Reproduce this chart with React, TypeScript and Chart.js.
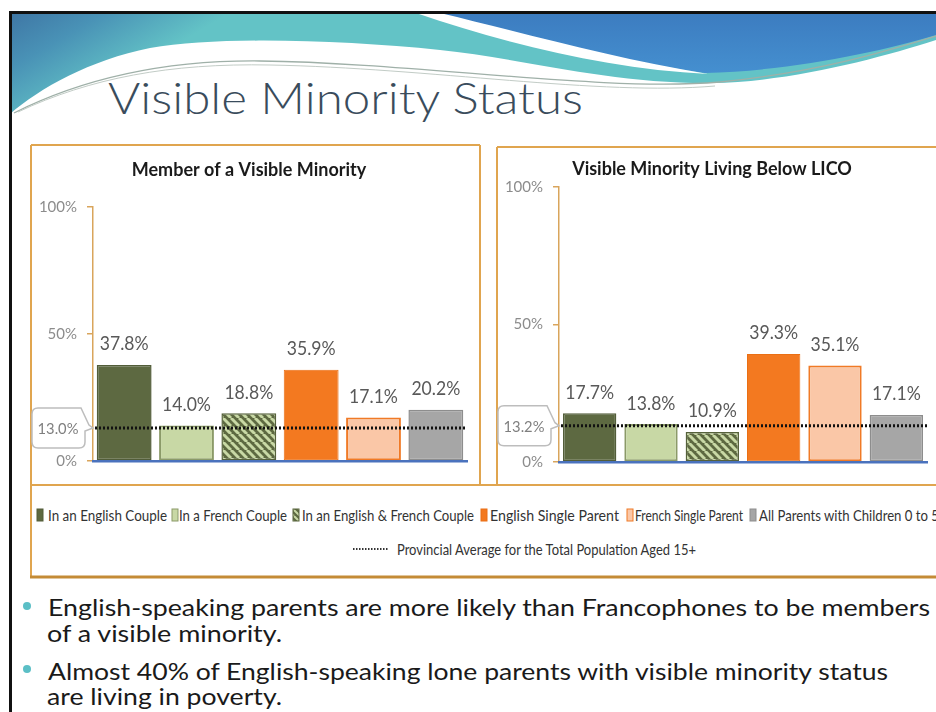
import React, { useEffect, useRef } from "react";
import { Chart, registerables } from "chart.js";

Chart.register(...registerables);

// ---------- data ----------
const seriesNames = [
  "In an English Couple",
  "In a French Couple",
  "In an English & French Couple",
  "English Single Parent",
  "French Single Parent",
  "All Parents with Children 0 to 5",
];
const chartTitles = ["Member of a Visible Minority", "Visible Minority Living Below LICO"];
const memberOfVisibleMinority = [37.8, 14.0, 18.8, 35.9, 17.1, 20.2];
const livingBelowLico = [17.7, 13.8, 10.9, 39.3, 35.1, 17.1];
const provincialAverages = [13.0, 13.2];
const yTickValues = [0, 50, 100];
const averageLegendLabel = "Provincial Average for the Total Population Aged 15+";
const slideTitle = "Visible Minority Status";
const bulletLines = [
  "English-speaking parents are more likely than Francophones to be members",
  "of a visible minority.",
  "Almost 40% of English-speaking lone parents with visible minority status",
  "are living in poverty.",
];

// ---------- styles ----------
const FILLS = ["#5d6941", "#c8d8a5", "HATCH", "#f37920", "#fac7a7", "#a6a6a6"];
const BORDERS = ["#525d39", "#8b9a68", "#56623b", "#ea6f14", "#f07a26", "#8d8d8d"];
const BORDER_W = [1.5, 2, 1.5, 1, 2, 1.5];
const ORANGE = "#e0a54f";

function makeHatch(): CanvasPattern | string {
  const c = document.createElement("canvas");
  c.width = 8;
  c.height = 8;
  const g = c.getContext("2d");
  if (!g) return "#5d6941";
  g.fillStyle = "#5d6941";
  g.fillRect(0, 0, 8, 8);
  g.strokeStyle = "#c8d8a5";
  g.lineWidth = 3;
  for (const o of [-8, 0, 8]) {
    g.beginPath();
    g.moveTo(o, 0);
    g.lineTo(o + 8, 8);
    g.stroke();
  }
  return g.createPattern(c, "repeat") || "#5d6941";
}

function drawCondensed(ctx: CanvasRenderingContext2D, text: string, x: number, y: number, font: string, color: string, k: number) {
  ctx.save();
  ctx.translate(x, y);
  ctx.scale(k, 1);
  ctx.font = font;
  ctx.fillStyle = color;
  ctx.textAlign = "center";
  ctx.textBaseline = "middle";
  ctx.fillText(text, 0, 0);
  ctx.restore();
}

const overlayPlugin = {
  id: "overlay",
  afterDatasetsDraw(chart: any, _args: any, opts: any) {
    const { ctx, chartArea } = chart;
    const y = chart.scales.y;
    const avg = opts.average as number;
    const Y = y.getPixelForValue(avg);
    const A = chartArea.left;

    // data labels
    chart.data.datasets.forEach((ds: any, i: number) => {
      const meta = chart.getDatasetMeta(i);
      meta.data.forEach((el: any, j: number) => {
        const v = ds.data[j] as number;
        drawCondensed(ctx, v.toFixed(1) + "%", el.x, el.y - 21, "20px Lato", "#595959", 0.88);
      });
    });

    // dotted average line
    ctx.save();
    ctx.strokeStyle = "#111";
    ctx.lineWidth = 3;
    ctx.setLineDash([2, 2]);
    ctx.beginPath();
    ctx.moveTo(A + 2, Y);
    ctx.lineTo(chartArea.right, Y);
    ctx.stroke();
    ctx.restore();

    // callout box
    const l = A - 61, r = A - 8, t = Y - 20, b = Y + 20, rad = 6;
    ctx.save();
    ctx.fillStyle = "#ffffff";
    ctx.strokeStyle = "#bdbdbd";
    ctx.lineWidth = 1.5;
    ctx.beginPath();
    ctx.moveTo(l + rad, t);
    ctx.lineTo(r - 4, t);
    ctx.lineTo(A - 4, Y - 3);
    ctx.lineTo(A, Y);
    ctx.lineTo(r, Y + 3);
    ctx.lineTo(r, b - rad);
    ctx.quadraticCurveTo(r, b, r - rad, b);
    ctx.lineTo(l + rad, b);
    ctx.quadraticCurveTo(l, b, l, b - rad);
    ctx.lineTo(l, t + rad);
    ctx.quadraticCurveTo(l, t, l + rad, t);
    ctx.closePath();
    ctx.fill();
    ctx.stroke();
    ctx.restore();
    drawCondensed(ctx, avg.toFixed(1) + "%", A - 35, Y + 1, "16px Lato", "#7f7f7f", 0.92);
  },
};

type PanelProps = {
  title: string;
  values: number[];
  average: number;
  left: number;
  top: number;
  width: number;
  height: number;
  titlePadTop: number;
  titlePadBottom: number;
  padRight: number;
  barPct: number;
};

function BarPanel(p: PanelProps) {
  const ref = useRef<HTMLCanvasElement | null>(null);
  useEffect(() => {
    if (!ref.current) return;
    const hatch = makeHatch();
    const datasets = seriesNames.map((name, i) => ({
      label: name,
      data: [p.values[i]],
      backgroundColor: FILLS[i] === "HATCH" ? hatch : FILLS[i],
      borderColor: BORDERS[i],
      borderWidth: BORDER_W[i],
      borderSkipped: false,
      categoryPercentage: 1,
      barPercentage: p.barPct,
    }));
    const chart = new Chart(ref.current, {
      type: "bar",
      data: { labels: [p.title], datasets: datasets as any },
      plugins: [overlayPlugin as any],
      options: {
        responsive: false,
        animation: false,
        devicePixelRatio: 1,
        layout: { padding: { left: 0, right: p.padRight, top: 0, bottom: 23 } },
        plugins: {
          legend: { display: false },
          tooltip: { enabled: false },
          title: {
            display: true,
            text: p.title,
            color: "#1a1a1a",
            font: { family: "Lato", size: 18, weight: "bold", lineHeight: 1.2 },
            padding: { top: p.titlePadTop, bottom: p.titlePadBottom },
          },
          overlay: { average: p.average },
        } as any,
        scales: {
          x: {
            type: "category",
            offset: true,
            ticks: { display: false },
            grid: { display: false, drawTicks: false },
            border: { display: true, color: "#4a72bd", width: 2.5, z: 1 },
          },
          y: {
            min: 0,
            max: 100,
            afterBuildTicks: (s: any) => {
              s.ticks = yTickValues.map((v) => ({ value: v }));
            },
            afterFit: (s: any) => {
              s.width = 62;
            },
            ticks: {
              callback: (v: any) => v + "%",
              color: "#8c8c8c",
              font: { family: "Lato", size: 15 },
              padding: 10,
            },
            grid: {
              display: true,
              drawOnChartArea: false,
              drawTicks: true,
              tickLength: 6,
              color: "#d9a55c",
              lineWidth: 1.5,
            },
            border: { display: true, color: "#d9a55c", width: 1.5 },
          },
        } as any,
      },
    });
    return () => chart.destroy();
  }, []);
  return (
    <canvas
      ref={ref}
      width={p.width}
      height={p.height}
      style={{ position: "absolute", left: p.left, top: p.top, width: p.width, height: p.height }}
    />
  );
}

const legendPos = [
  { sq: 37, tx: 48, len: 119 },
  { sq: 172, tx: 179, len: 108 },
  { sq: 293, tx: 302, len: 172 },
  { sq: 481, tx: 490, len: 129 },
  { sq: 627, tx: 635, len: 108 },
  { sq: 750, tx: 759, len: 180 },
];

function Slide() {
  const textProps = { lengthAdjust: "spacingAndGlyphs" as const };
  return (
    <svg width={936} height={712} style={{ position: "absolute", left: 0, top: 0 }}>
      <defs>
        <linearGradient id="hdrA" gradientUnits="userSpaceOnUse" x1="0" y1="13" x2="60" y2="114">
          <stop offset="0" stopColor="#3d73a3" />
          <stop offset="0.45" stopColor="#4992b6" />
          <stop offset="1" stopColor="#63c3c6" />
        </linearGradient>
        <linearGradient id="hdrB" gradientUnits="userSpaceOnUse" x1="0" y1="13" x2="0" y2="75">
          <stop offset="0" stopColor="#3c7cc0" />
          <stop offset="1" stopColor="#4590d0" />
        </linearGradient>
        <pattern id="hatch" width="6" height="6" patternUnits="userSpaceOnUse">
          <rect width="6" height="6" fill="#5d6941" />
          <path d="M-6,0 L0,6 M0,0 L6,6 M6,0 L12,6" stroke="#c8d8a5" strokeWidth="2" />
        </pattern>
      </defs>
      <rect x="0" y="0" width="936" height="712" fill="#ffffff" />
      {/* header decoration */}
      <path d="M 10 13 L 936 13 L 936 40 C 880 58, 790 82, 712 83 C 610 84, 520 58, 440 50 C 340 40, 220 36, 150 48 C 90 60, 40 88, 10 114 Z" fill="url(#hdrA)" />
      <path d="M 430 13 L 936 13 L 936 35 C 880 52, 790 71, 705 73 C 620 62, 520 35, 430 13 Z" fill="url(#hdrB)" />
      <path d="M 416 13 L 440 13 C 520 32, 610 58, 708 74 C 610 69, 510 45, 416 13 Z" fill="#ffffff" />
      <path d="M 14 113 C 80 80, 160 60, 260 61 C 420 63, 600 92, 720 82 C 820 72, 890 50, 936 36" stroke="#9fb0a8" strokeWidth="1.3" fill="none" />
      <path d="M 18 112 C 90 78, 170 63, 270 65 C 430 68, 600 96, 715 86" stroke="#c2ccc6" strokeWidth="1" fill="none" />
      {/* slide frame */}
      <rect x="9" y="11" width="927" height="3" fill="#111" />
      <rect x="9" y="11" width="3" height="701" fill="#111" />
      {/* title */}
      <text x="108" y="114" fontFamily="Lato" fontWeight="300" fontSize="44" fill="#3a4c5c" textLength="475" {...textProps}>
        {slideTitle}
      </text>
      {/* chart frames */}
      <g stroke={ORANGE} strokeWidth="2" fill="none">
        <line x1="31" y1="145" x2="31" y2="577" />
        <line x1="31" y1="145" x2="480" y2="145" />
        <line x1="480" y1="145" x2="480" y2="485" />
        <line x1="497" y1="147" x2="497" y2="485" />
        <line x1="497" y1="147" x2="936" y2="147" />
        <line x1="31" y1="485" x2="936" y2="485" />
      </g>
      <line x1="30" y1="577" x2="936" y2="577" stroke="#c48b36" strokeWidth="3" />
      {/* legend */}
      {seriesNames.map((name, i) => (
        <g key={name}>
          <rect
            x={legendPos[i].sq}
            y={509}
            width={6}
            height={12}
            fill={FILLS[i] === "HATCH" ? "url(#hatch)" : FILLS[i]}
            stroke={BORDERS[i]}
            strokeWidth={1}
          />
          <text x={legendPos[i].tx} y={521} fontFamily="Lato" fontSize="16" fill="#333333" textLength={legendPos[i].len} {...textProps}>
            {name}
          </text>
        </g>
      ))}
      <line x1="353" y1="549" x2="389" y2="549" stroke="#333" strokeWidth="2" strokeDasharray="1.5 1.5" />
      <text x="397" y="555" fontFamily="Lato" fontSize="16" fill="#333333" textLength="299" {...textProps}>
        {averageLegendLabel}
      </text>
      {/* bullets */}
      <circle cx="27" cy="606" r="4" fill="#5bbfc6" />
      <circle cx="27" cy="669" r="4" fill="#5bbfc6" />
      <text x="48" y="616" fontFamily="Lato" fontSize="23" fill="#1a1a1a" textLength="882" {...textProps}>
        {bulletLines[0]}
      </text>
      <text x="47" y="642" fontFamily="Lato" fontSize="23" fill="#1a1a1a" textLength="235" {...textProps}>
        {bulletLines[1]}
      </text>
      <text x="48" y="680" fontFamily="Lato" fontSize="23" fill="#1a1a1a" textLength="840" {...textProps}>
        {bulletLines[2]}
      </text>
      <text x="47" y="705" fontFamily="Lato" fontSize="23" fill="#1a1a1a" textLength="235" {...textProps}>
        {bulletLines[3]}
      </text>
    </svg>
  );
}

export default function App() {
  return (
    <div style={{ position: "absolute", left: 0, top: 0, width: 936, height: 712, overflow: "hidden", background: "#fff" }}>
      <Slide />
      <BarPanel
        title={chartTitles[0]}
        values={memberOfVisibleMinority}
        average={provincialAverages[0]}
        left={31}
        top={146}
        width={448}
        height={338}
        titlePadTop={13.7}
        titlePadBottom={25.7}
        padRight={12}
        barPct={0.88}
      />
      <BarPanel
        title={chartTitles[1]}
        values={livingBelowLico}
        average={provincialAverages[1]}
        left={497}
        top={147}
        width={439}
        height={338}
        titlePadTop={11.2}
        titlePadBottom={7.2}
        padRight={9}
        barPct={0.87}
      />
    </div>
  );
}
